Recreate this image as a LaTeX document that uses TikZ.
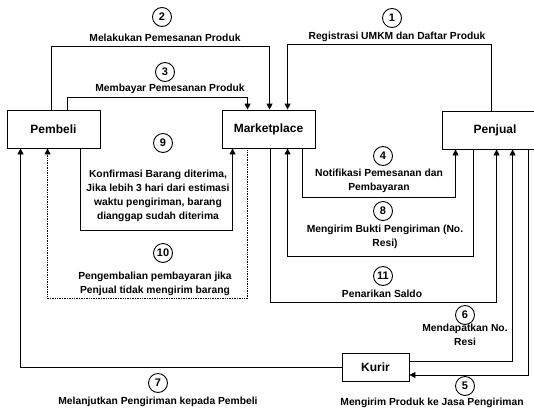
\documentclass[tikz,border=0pt]{standalone}
\usepackage{fontspec}
\setmainfont{Liberation Sans}
\usetikzlibrary{arrows.meta}

\begin{document}
\begin{tikzpicture}[x=1pt,y=-1pt,
            >={Triangle[length=6pt,width=6pt]},
            line width=0.9pt,
            box/.style={draw,rectangle,minimum height=38pt,inner sep=0pt,
                        font=\fontsize{12}{14}\selectfont\bfseries},
            num/.style={draw,circle,minimum size=19pt,inner sep=0pt,
                        font=\fontsize{11}{13}\selectfont\bfseries},
            lbl/.style={align=center,inner sep=0pt,
                        font=\fontsize{10.3}{14}\selectfont\bfseries},
            flow/.style={->},
            back/.style={->,densely dotted,line width=0.7pt}]

        \clip (0,0) rectangle (534,415);

        \node[box,minimum width=93pt]  (pembeli) at (53.5,129)  {Pembeli};
        \node[box,minimum width=93pt]  (market)  at (268.5,129) {Marketplace};
        \node[box,minimum width=106pt] (penjual) at (495,130)   {Penjual};
        \node[box,minimum width=67pt,minimum height=28pt]
                                       (kurir)   at (375.5,367) {Kurir};

        \node[num] (n1)  at (392,18)  {1};
        \node[num] (n2)  at (162,17)  {2};
        \node[num] (n3)  at (165,72)  {3};
        \node[num] (n4)  at (383,156) {4};
        \node[num] (n5)  at (465,386) {5};
        \node[num] (n6)  at (465,315) {6};
        \node[num] (n7)  at (158,383) {7};
        \node[num] (n8)  at (383,211) {8};
        \node[num] (n9)  at (163,143) {9};
        \node[num] (n10) at (163,253) {10};
        \node[num] (n11) at (383,276) {11};

        \node[lbl] (t1)  at (397,37)  {Registrasi UMKM dan Daftar Produk};
        \node[lbl] (t2)  at (165,38)  {Melakukan Pemesanan Produk};
        \node[lbl] (t3)  at (170,89)  {Membayar Pemesanan Produk};
        \node[lbl] (t4)  at (379,181) {Notifikasi Pemesanan dan\\Pembayaran};
        \node[lbl] (t5)  at (432,403) {Mengirim Produk ke Jasa Pengiriman};
        \node[lbl] (t6)  at (465,335) {Mendapatkan No.\\Resi};
        \node[lbl] (t7)  at (158,402) {Melanjutkan Pengiriman kepada Pembeli};
        \node[lbl] (t8)  at (385,237) {Mengirim Bukti Pengiriman (No.\\Resi)};
        \node[lbl] (t9)  at (158,196) {Konfirmasi Barang diterima,\\Jika lebih 3 hari dari estimasi\\waktu pengiriman, barang\\dianggap sudah diterima};
        \node[lbl] (t10) at (155,284) {Pengembalian pembayaran jika\\Penjual tidak mengirim barang};
        \node[lbl] (t11) at (382,294) {Penarikan Saldo};

        \draw[flow] ([xshift=50]penjual.north west) -- ++(0,-66)
                    -| ([xshift=66]market.north west);
        \draw[flow] ([xshift=45]pembeli.north west) -- ++(0,-63.3)
                    -| ([xshift=48]market.north west);
        \draw[flow] ([xshift=61]pembeli.north west) -- ++(0,-12.3)
                    -| ([xshift=26]market.north west);
        \draw[flow] ([xshift=81]market.south west) -- ++(0,49)
                    -| ([xshift=14]penjual.south west);
        \draw[flow] ([xshift=87]penjual.south west) |- ([yshift=-8]kurir.east);
        \draw[flow] ([yshift=6]kurir.east) -| ([xshift=71]penjual.south west);
        \draw[flow] (kurir.west) -| ([xshift=14]pembeli.south west);
        \draw[flow] ([xshift=32]penjual.south west) -- ++(0,107)
                    -| ([xshift=66]market.south west);
        \draw[flow] ([xshift=74]pembeli.south west) -- ++(0,82)
                    -| ([xshift=11]market.south west);
        \draw[back] ([xshift=26]market.south west) -- ++(0,150)
                    -| ([xshift=41]pembeli.south west);
        \draw[flow] ([xshift=49]market.south west) -- ++(0,154)
                    -| ([xshift=55]penjual.south west);

\end{tikzpicture}
\end{document}
